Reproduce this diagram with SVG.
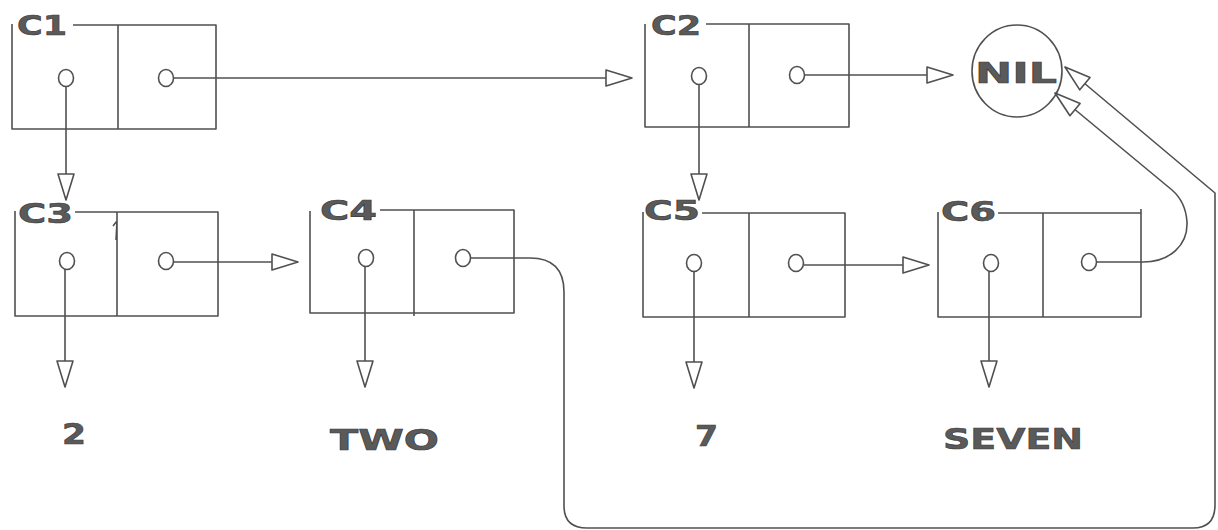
<svg xmlns="http://www.w3.org/2000/svg" width="1218" height="530" viewBox="0 0 1218 530">
<defs>
<style>
.ln{fill:none;stroke:#505050;stroke-width:1.6;stroke-linejoin:round}
.pt{fill:#fff;stroke:#505050;stroke-width:1.6}
.lb{font-family:"DejaVu Sans","Liberation Sans",sans-serif;font-weight:bold;fill:#5a5a5a;stroke:#3a3a3a;stroke-width:0.6}
</style>
<marker id="ah" markerUnits="userSpaceOnUse" markerWidth="32" markerHeight="22" viewBox="-29 -11 32 22" refX="0" refY="0" orient="auto" overflow="visible">
<path d="M-26,-8 L0,0 L-26,8 Z" fill="#fff" stroke="#505050" stroke-width="1.6" stroke-linejoin="round"/>
</marker>
</defs>
<rect width="1218" height="530" fill="#fff"/>

<g id="connectors">
<path class="ln" d="M174,78 H632" marker-end="url(#ah)"/>
<path class="ln" d="M66,86 V200" marker-end="url(#ah)"/>
<path class="ln" d="M805,75 H953" marker-end="url(#ah)"/>
<path class="ln" d="M699,84 V200" marker-end="url(#ah)"/>
<path class="ln" d="M174,262 H298" marker-end="url(#ah)"/>
<path class="ln" d="M65,269 V387" marker-end="url(#ah)"/>
<path class="ln" d="M365,266 V387" marker-end="url(#ah)"/>
<path class="ln" d="M804,265 H929" marker-end="url(#ah)"/>
<path class="ln" d="M694,271 V388" marker-end="url(#ah)"/>
<path class="ln" d="M989,271 V387" marker-end="url(#ah)"/>
<path class="ln" d="M471,258 H530 Q564,258 564,292 V506 Q564,528 587,528 H1193 Q1215,528 1215,505 V193 L1065,67" marker-end="url(#ah)"/>
<path class="ln" d="M1097,262 H1143 C1170,262 1188,245 1187,222 C1186,206 1180,197 1172,190 L1055,93" marker-end="url(#ah)"/>
</g>

<g id="C1">
<path class="ln" d="M12,24 V129 H216 V25 H73 M118,25 V129"/>
<text class="lb" x="17" y="35" font-size="27" textLength="50" lengthAdjust="spacingAndGlyphs">C1</text>
<ellipse class="pt" cx="66" cy="78" rx="7.5" ry="8.5"/>
<ellipse class="pt" cx="166" cy="78" rx="7.5" ry="8.5"/>
</g>

<g id="C2">
<path class="ln" d="M645,24 V127 H849 V24 H706 M749,24 V127"/>
<text class="lb" x="651" y="35" font-size="27" textLength="50" lengthAdjust="spacingAndGlyphs">C2</text>
<ellipse class="pt" cx="699" cy="76" rx="7.5" ry="8.5"/>
<ellipse class="pt" cx="797" cy="75" rx="7.5" ry="8.5"/>
</g>

<g id="NIL">
<ellipse class="ln" cx="1017" cy="71" rx="45" ry="46"/>
<text class="lb" x="975" y="83" font-size="29" textLength="82" lengthAdjust="spacingAndGlyphs">NIL</text>
</g>

<g id="C3">
<path class="ln" d="M15,211 V316 H218 V212 H75 M117,212 V316 M113,226 L117,221 L116,240"/>
<text class="lb" x="18" y="223" font-size="27" textLength="55" lengthAdjust="spacingAndGlyphs">C3</text>
<ellipse class="pt" cx="67" cy="261" rx="7.5" ry="8.5"/>
<ellipse class="pt" cx="166" cy="261" rx="7.5" ry="8.5"/>
</g>

<g id="C4">
<path class="ln" d="M310,211 V313 H514 V210 H380 M414,210 V316"/>
<text class="lb" x="320" y="220" font-size="27" textLength="57" lengthAdjust="spacingAndGlyphs">C4</text>
<ellipse class="pt" cx="366" cy="258" rx="7.5" ry="8.5"/>
<ellipse class="pt" cx="463" cy="258" rx="7.5" ry="8.5"/>
</g>

<g id="C5">
<path class="ln" d="M643,212 V317 H845 V213 H702 M749,213 V317"/>
<text class="lb" x="644" y="220" font-size="27" textLength="56" lengthAdjust="spacingAndGlyphs">C5</text>
<ellipse class="pt" cx="694" cy="263" rx="7.5" ry="8.5"/>
<ellipse class="pt" cx="796" cy="263" rx="7.5" ry="8.5"/>
</g>

<g id="C6">
<path class="ln" d="M938,212 V317 H1141 V209 M1141,213 H998 M1043,213 V317"/>
<text class="lb" x="941" y="221" font-size="27" textLength="55" lengthAdjust="spacingAndGlyphs">C6</text>
<ellipse class="pt" cx="991" cy="263" rx="7.5" ry="8.5"/>
<ellipse class="pt" cx="1089" cy="262" rx="7.5" ry="8.5"/>
</g>

<g id="V2"><text class="lb" x="62" y="444" font-size="28" textLength="24" lengthAdjust="spacingAndGlyphs">2</text></g>
<g id="VTWO"><text class="lb" x="330" y="450" font-size="28" textLength="109" lengthAdjust="spacingAndGlyphs">TWO</text></g>
<g id="V7"><text class="lb" x="695" y="446" font-size="29" textLength="23" lengthAdjust="spacingAndGlyphs">7</text></g>
<g id="VSEVEN"><text class="lb" x="943" y="449" font-size="29" textLength="140" lengthAdjust="spacingAndGlyphs">SEVEN</text></g>
</svg>
